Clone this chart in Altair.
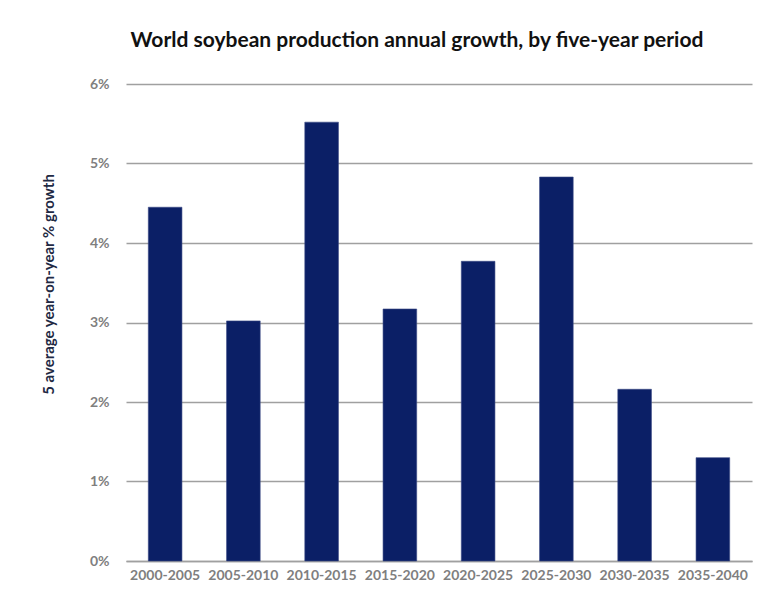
import altair as alt
import pandas as pd

periods = ["2000-2005", "2005-2010", "2010-2015", "2015-2020",
           "2020-2025", "2025-2030", "2030-2035", "2035-2040"]
growth = [4.45, 3.02, 5.52, 3.17, 3.77, 4.83, 2.16, 1.30]

df = pd.DataFrame({"period": periods, "growth": [g / 100 for g in growth]})

FONT = "Lato"

chart = alt.Chart(df).mark_bar(color="#0b1f66", stroke="#3a4a85", strokeWidth=0.6).encode(
    x=alt.X("period:N", sort=periods, title=None,
            scale=alt.Scale(paddingInner=0.57, paddingOuter=0.285),
            axis=alt.Axis(labelAngle=0, labelFont=FONT, labelFontSize=14,
                          labelFontWeight="bold", labelColor="#7f7f7f",
                          labelPadding=7, ticks=False, domainColor="#a0a0a0",
                          domainWidth=1.5, grid=False)),
    y=alt.Y("growth:Q", title="5 average year-on-year % growth",
            scale=alt.Scale(domain=[0, 0.06]),
            axis=alt.Axis(format=".0%", values=[0, 0.01, 0.02, 0.03, 0.04, 0.05, 0.06],
                          labelFont=FONT, labelFontSize=14, labelFontWeight="bold",
                          labelColor="#7f7f7f", labelPadding=17, ticks=False,
                          domain=False, gridColor="#a0a0a0", gridWidth=1.5,
                          titleFont=FONT, titleFontSize=15, titleFontWeight="bold",
                          titleColor="#1f2a44", titleAngle=-90, titleX=-78, titleY=200,
                          titleAlign="center", titleBaseline="middle")),
).properties(
    width=626, height=477,
    title=alt.TitleParams("World soybean production annual growth, by five-year period",
                          font=FONT, fontSize=21, fontWeight="bold", color="#111111",
                          anchor="middle", dx=-22, offset=26),
    autosize=alt.AutoSizeParams(type="none"),
    padding={"left": 118, "top": 76, "right": 14, "bottom": 30},
).configure_view(stroke=None)

chart.save("out.html", embed_options={"renderer": "svg", "actions": False})
